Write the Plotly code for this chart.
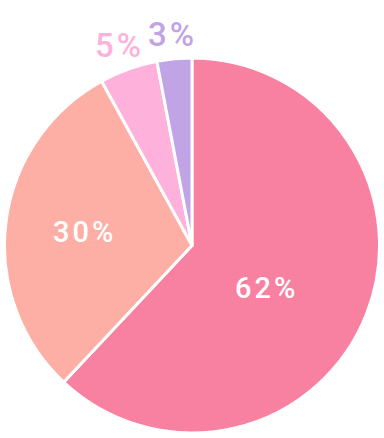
import math
import plotly.graph_objects as go

labels = ["A", "B", "C", "D"]
values = [62, 30, 5, 3]
colors = ["#F880A1", "#FDAFA6", "#FEB2DB", "#C1A4E6"]
text_colors = ["#FFFFFF", "#FFFFFF", "#FEB2DB", "#C1A4E6"]

# label placement style: (fraction of slice span from start, fraction of radius, font size)
label_place = [(0.537, 0.458, 29), (0.50, 0.58, 29), (0.50, 1.135, 33), (0.50, 1.128, 33)]

W, H = 384, 438
cx, cy_bottom, R = 192.0, 192.5, 187.5

fig = go.Figure(go.Pie(
    labels=labels,
    values=values,
    sort=False,
    direction="clockwise",
    rotation=0,
    marker=dict(colors=colors, line=dict(color="#FFFFFF", width=3)),
    textinfo="none",
    hoverinfo="skip",
    showlegend=False,
    domain=dict(x=[(cx - R) / W, (cx + R) / W], y=[(cy_bottom - R) / H, (cy_bottom + R) / H]),
))

total = sum(values)
start = 0.0
for v, col, (af, rf, fs) in zip(values, text_colors, label_place):
    span = 360.0 * v / total
    ang = math.radians(start + af * span)
    start += span
    px = cx + R * rf * math.sin(ang)
    py = cy_bottom + R * rf * math.cos(ang)
    pct = round(100.0 * v / total)
    fig.add_annotation(
        x=px / W, y=py / H, xref="paper", yref="paper",
        text=f'<span style="letter-spacing:3px">{pct}%</span>',
        showarrow=False, xanchor="center", yanchor="middle",
        font=dict(family="Roboto", size=fs, color=col, weight=500),
    )

fig.update_layout(
    width=W, height=H,
    margin=dict(l=0, r=0, t=0, b=0),
    paper_bgcolor="white",
)
fig.write_html("out.html")
